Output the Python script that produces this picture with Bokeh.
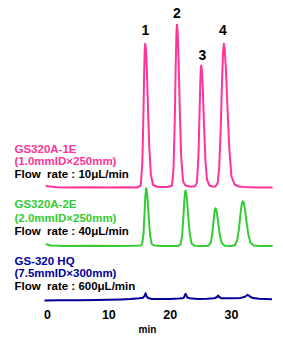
import numpy as np
from bokeh.plotting import figure
from bokeh.models import Range1d, FixedTicker, Label
from bokeh.embed import file_html
from bokeh.resources import INLINE

# ---- data (time in min, signal above each trace's own baseline) ----
pink_t = [-0.3, 1.5, 4.0, 7.0, 10.0, 13.0, 14.6, 15.2, 15.45, 15.6, 15.75, 15.85, 15.93, 16.05, 16.2,
          16.4, 16.6, 16.85, 17.2, 18.0, 19.5, 20.3, 20.55, 20.75, 20.9, 21.02, 21.11, 21.22, 21.38,
          21.58, 21.8, 22.1, 22.5, 23.2, 24.0, 24.35, 24.6, 24.78, 24.92, 25.0, 25.06, 25.16, 25.32,
          25.52, 25.75, 26.0, 26.4, 26.9, 27.4, 27.75, 28.0, 28.25, 28.45, 28.62, 28.75, 28.9, 29.1,
          29.35, 29.65, 30.0, 30.5, 31.2, 32.0, 34.0, 36.7]
pink_h = [1.5, 0.3, 0.0, 0.3, 0.0, 0.3, 0.0, 2.0, 23, 60, 111, 137, 143.7, 138, 117,
          77, 40, 13, 2.5, 0.5, 0.5, 1.8, 19, 67, 120, 154, 162.7, 156, 127,
          75, 31, 6, 2, 1, 1, 4.5, 29, 71, 107, 119, 122, 118, 99,
          63, 27, 8, 2, 1, 1, 4.5, 20.5, 60, 105, 135, 143.7, 138, 117,
          79, 38, 11, 3, 1, 0.5, 0.0, 0.0]

green_t = [-0.3, 0.5, 3.0, 7.0, 11.0, 14.0, 15.2, 15.45, 15.65, 15.8, 15.95, 16.09, 16.2, 16.35, 16.55,
           16.75, 17.0, 17.4, 18.5, 20.5, 21.3, 21.7, 21.95, 22.15, 22.3, 22.42, 22.5, 22.6, 22.75,
           22.95, 23.2, 23.5, 24.0, 25.5, 26.2, 26.6, 26.85, 27.05, 27.22, 27.32, 27.39, 27.5, 27.65,
           27.85, 28.1, 28.4, 28.9, 30.0, 30.6, 30.95, 31.2, 31.45, 31.65, 31.78, 31.84, 32.0, 32.2,
           32.45, 32.75, 33.1, 33.6, 34.5, 36.7]
green_h = [2.0, 0.5, 0.0, 0.3, 0.0, 0.2, 0.5, 2.2, 12.3, 29.6, 49.4, 57.8, 55, 44, 24.5,
           9.8, 2, 0.5, 0.0, 0.0, 0.0, 1.6, 10.4, 28, 44.5, 53.5, 55.5, 53.8, 45.6,
           29.5, 12, 2.4, 0.3, 0.0, 0.1, 3, 11.5, 23.5, 33.6, 37, 37.8, 36.7, 32,
           22.5, 10.9, 3, 0.3, 0.0, 1, 6.3, 16.3, 30.8, 41, 44.4, 44.8, 43, 36.3,
           24.2, 11.4, 3.3, 0.6, 0.0, 0.0]

blue_t = [-0.5, 2.0, 5.0, 8.0, 10.0, 12.0, 13.5, 15.0, 15.6, 15.85, 16.0, 16.15, 16.4, 17.0, 18.5,
          20.0, 21.5, 22.2, 22.5, 22.8, 23.2, 24.5, 26.0, 27.2, 27.6, 27.8, 28.0, 28.4, 30.0,
          31.5, 32.2, 32.65, 33.0, 33.5, 34.5, 36.6]
blue_h = [0.0, 0.2, 0.3, 0.6, 0.7, 1.0, 1.4, 2.2, 2.8, 5.0, 7.3, 4.0, 2.5, 1.5, 1.4,
          1.6, 2.0, 2.6, 6.7, 3.0, 2.2, 1.6, 1.8, 2.2, 3.2, 5.0, 3.5, 2.2, 2.2,
          2.6, 3.8, 5.7, 4.0, 2.4, 1.8, 1.3]

x_ticks = [0, 10, 20, 30]
peak_labels = ["1", "2", "3", "4"]

pink_labels = ["GS320A-1E", "(1.0mmID\u00d7250mm)", "Flow\u00a0 rate : 10\u03bcL/min"]
green_labels = ["GS320A-2E", "(2.0mmID\u00d7250mm)", "Flow\u00a0 rate : 40\u03bcL/min"]
blue_labels = ["GS-320 HQ", "(7.5mmID\u00d7300mm)", "Flow\u00a0 rate : 600\u03bcL/min"]

# ---- layout / style constants ----
PINK = "#ff3399"
GREEN = "#33cc33"
BLUE = "#000099"
PINK_OFFSET = 118.0
GREEN_OFFSET = 59.5
BLUE_OFFSET = 5.0

W, H = 283, 340
FRAME_LEFT = 11
FRAME_H = 305
PX0 = 47.0          # pixel of t=0
PXPM = 6.133        # pixels per minute
FONT = "Liberation Sans"


def tx(px):
    return (px - PX0) / PXPM


def ty(py):
    return FRAME_H - py


p = figure(width=W, height=H, output_backend="svg", toolbar_location=None,
           x_range=Range1d(tx(FRAME_LEFT), tx(W)), y_range=Range1d(0, FRAME_H),
           min_border_left=FRAME_LEFT, min_border_right=0, min_border_top=0,
           min_border_bottom=H - FRAME_H, y_axis_location=None)
p.grid.visible = False
p.outline_line_color = None
p.background_fill_color = "white"
p.border_fill_color = "white"

p.line(pink_t, np.array(pink_h) + PINK_OFFSET, line_color=PINK, line_width=2, line_join="round")
p.line(green_t, np.array(green_h) + GREEN_OFFSET, line_color=GREEN, line_width=2, line_join="round")
p.line(blue_t, np.array(blue_h) + BLUE_OFFSET, line_color=BLUE, line_width=2, line_join="round")

ax = p.xaxis[0]
ax.ticker = FixedTicker(ticks=x_ticks)
ax.axis_line_color = None
ax.major_tick_line_color = None
ax.minor_tick_line_color = None
ax.major_tick_out = 0
ax.major_tick_in = 0
ax.major_label_standoff = 4
ax.major_label_text_font = FONT
ax.major_label_text_font_style = "bold"
ax.major_label_text_font_size = "12.5px"
ax.major_label_text_color = "black"
ax.axis_label = "min"
ax.axis_label_standoff = 2
ax.axis_label_text_font = FONT
ax.axis_label_text_font_style = "bold"
ax.axis_label_text_font_size = "10px"
ax.axis_label_text_color = "black"

# peak numbers
peak_px = [(145, 29), (176.5, 12), (202, 54.5), (222.5, 29)]
for lab, (px, py) in zip(peak_labels, peak_px):
    p.add_layout(Label(x=tx(px), y=ty(py), text=lab, text_font=FONT, text_font_style="bold",
                       text_font_size="14px", text_color="black", text_align="center",
                       text_baseline="middle"))

# column descriptions
for labels, color, ys in [(pink_labels, PINK, (148, 160.5, 173)),
                          (green_labels, GREEN, (203.5, 217, 230.5)),
                          (blue_labels, BLUE, (260, 272.5, 285))]:
    for i, (txt, py) in enumerate(zip(labels, ys)):
        p.add_layout(Label(x=tx(14), y=ty(py), text=txt, text_font=FONT, text_font_style="bold",
                           text_font_size="11.5px", text_color=color if i < 2 else "black",
                           text_align="left", text_baseline="middle"))

open("out.html", "w").write(file_html(p, INLINE))
